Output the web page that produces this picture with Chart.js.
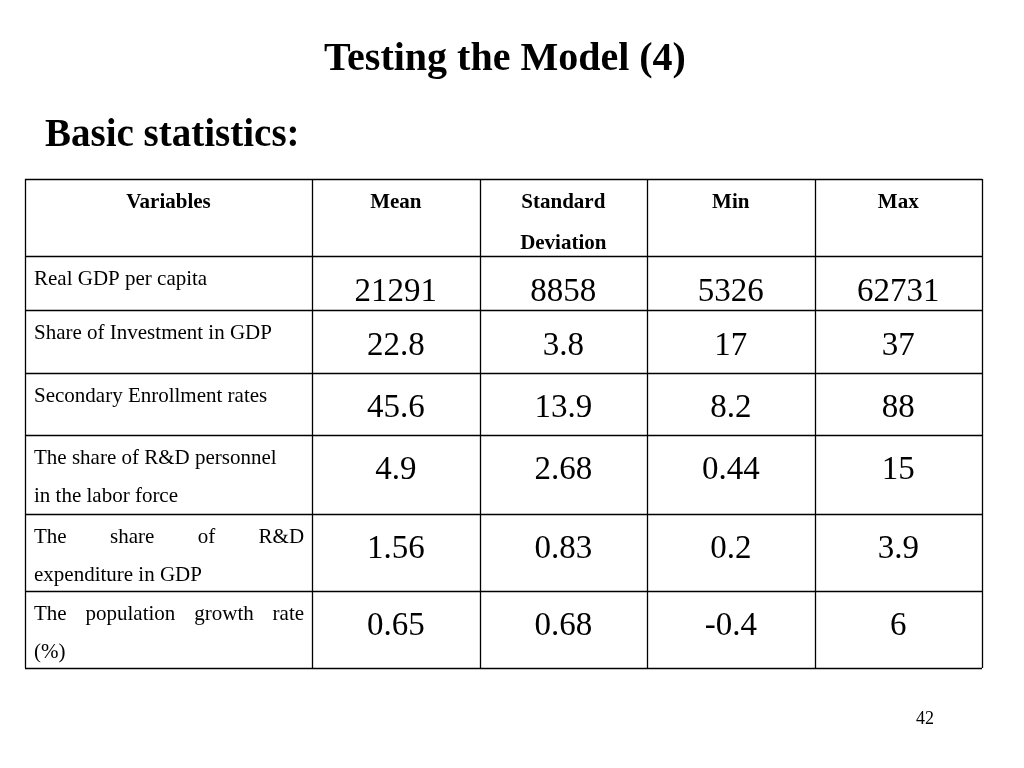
<!DOCTYPE html>
<html><head><meta charset="utf-8">
<script src="https://cdn.jsdelivr.net/npm/chart.js@4"></script>
<style>
body{margin:0;background:#fff;font-family:"Liberation Serif",serif;}
#wrap{position:absolute;left:0;top:0;width:1024px;height:768px;}
.t{position:absolute;font-weight:bold;color:#000;}
</style></head><body>
<div id="wrap"><canvas id="c" width="1024" height="768"></canvas></div>
<div class="t" style="left:0;width:1010px;text-align:center;top:33px;font-size:40px">Testing the Model (4)</div>
<div class="t" style="left:45px;top:110px;font-size:39px">Basic statistics:</div>
<div style="position:absolute;left:916px;top:708px;font-size:18px">42</div>
<script>
// Данные таблицы
const headers = ["Variables", "Mean", "Standard\nDeviation", "Min", "Max"];
const variables = [
    "Real GDP per capita",
    "Share of Investment in GDP",
    "Secondary Enrollment rates",
    "The share of R&D personnel\nin the labor force",
    "The share of R&D\nexpenditure in GDP",
    "The population growth rate\n(%)"
];
const meanVals = ["21291", "22.8", "45.6", "4.9", "1.56", "0.65"];
const sdVals = ["8858", "3.8", "13.9", "2.68", "0.83", "0.68"];
const minVals = ["5326", "17", "8.2", "0.44", "0.2", "-0.4"];
const maxVals = ["62731", "37", "88", "15", "3.9", "6"];

// Границы ячеек в единицах шкалы (ширина столбца = 1)
const colEdges = [0, 1.714, 2.714, 3.714, 4.714, 5.714];
const rowEdges = [0, 77, 131, 194, 256, 335, 412, 489];
const justified = [false, false, false, false, true, true];

function colCenter(i) { return (colEdges[i] + colEdges[i + 1]) / 2; }
function rowCenter(r) { return (rowEdges[r] + rowEdges[r + 1]) / 2; }

const columns = [meanVals, sdVals, minVals, maxVals];
const datasets = columns.map((vals, ci) => ({
    data: vals.map((v, ri) => ({ x: colCenter(ci + 1), y: rowCenter(ri + 1), label: v })),
    pointRadius: 0
}));

function drawJustified(ctx, text, x, y, width) {
    const words = text.split(" ");
    if (words.length < 2) { ctx.fillText(text, x, y); return; }
    const total = words.reduce((s, w) => s + ctx.measureText(w).width, 0);
    const gap = (width - total) / (words.length - 1);
    let cx = x;
    words.forEach(w => { ctx.fillText(w, cx, y); cx += ctx.measureText(w).width + gap; });
}

const tablePlugin = {
    id: "table",
    afterDatasetsDraw(chart) {
        const ctx = chart.ctx;
        const xs = chart.scales.x, ys = chart.scales.y;
        ctx.save();
        ctx.strokeStyle = "#000";
        ctx.lineWidth = 1.3;
        const top = ys.getPixelForValue(0), bottom = ys.getPixelForValue(489);
        const left = xs.getPixelForValue(0), right = xs.getPixelForValue(5.714);
        colEdges.forEach(e => {
            const px = Math.round(xs.getPixelForValue(e)) + 0.5;
            ctx.beginPath(); ctx.moveTo(px, top); ctx.lineTo(px, bottom); ctx.stroke();
        });
        rowEdges.forEach(e => {
            const py = Math.round(ys.getPixelForValue(e)) + 0.5;
            ctx.beginPath(); ctx.moveTo(left, py); ctx.lineTo(right, py); ctx.stroke();
        });
        // Заголовки
        ctx.fillStyle = "#000";
        ctx.textAlign = "center";
        ctx.textBaseline = "middle";
        ctx.font = "bold 21px 'Liberation Serif'";
        headers.forEach((h, i) => {
            const lines = h.split("\n");
            lines.forEach((l, li) => {
                ctx.fillText(l, xs.getPixelForValue(colCenter(i)), top + 24 + li * 41);
            });
        });
        // Названия переменных
        ctx.textAlign = "left";
        ctx.font = "21px 'Liberation Serif'";
        variables.forEach((v, r) => {
            const y0 = ys.getPixelForValue(rowEdges[r + 1]);
            v.split("\n").forEach((l, li) => {
                const x0 = left + 9, y = y0 + 23 + li * 38;
                if (justified[r] && li === 0) drawJustified(ctx, l, x0, y, xs.getPixelForValue(1.714) - 8 - x0);
                else ctx.fillText(l, x0, y);
            });
        });
        // Значения
        ctx.textAlign = "center";
        ctx.font = "33px 'Liberation Serif'";
        const offs = [9, 5, 4, -4, -3, -3];
        chart.data.datasets.forEach((ds, di) => {
            chart.getDatasetMeta(di).data.forEach((pt, i) => {
                ctx.fillText(ds.data[i].label, pt.x, pt.y + offs[i]);
            });
        });
        ctx.restore();
    }
};

new Chart(document.getElementById("c"), {
    type: "scatter",
    data: { datasets: datasets },
    options: {
        responsive: false,
        animation: false,
        layout: { padding: { left: 25, top: 179, right: 42, bottom: 100 } },
        plugins: { legend: { display: false }, tooltip: { enabled: false } },
        scales: {
            x: { type: "linear", min: 0, max: 5.714, display: false },
            y: { type: "linear", min: 0, max: 489, reverse: true, display: false }
        }
    },
    plugins: [tablePlugin]
});
</script>
</body></html>
